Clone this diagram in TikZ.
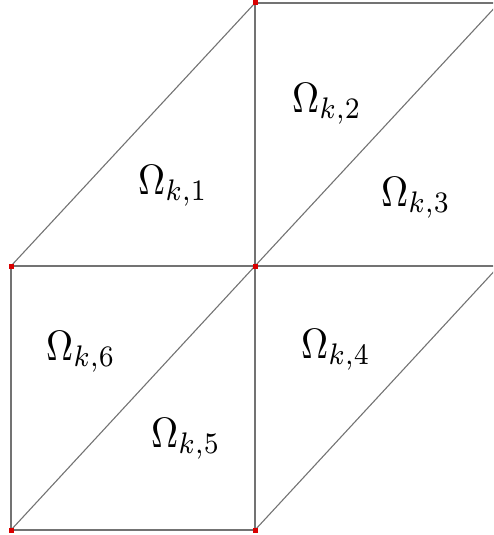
\documentclass[tikz,border=0pt]{standalone}
\usepackage{graphicx}
\newcommand{\biglab}[1]{\scalebox{3.75}[4.25]{$#1$}}
\begin{document}
\begin{tikzpicture}[x=1pt,y=-1pt,
  edge/.style={draw=black!55,line width=1.1pt},
  vdot/.style={fill=red!85!black,minimum size=5pt,inner sep=0pt,outer sep=0pt,shape=rectangle},
  lab/.style={anchor=base west,inner sep=0pt}]
\useasboundingbox (0,0) rectangle (493,535);
\clip (0,0) rectangle (493,535);
\coordinate (A) at (255,3);
\coordinate (TR) at (499,3);
\coordinate (L) at (11,266);
\coordinate (C) at (255,266);
\coordinate (R) at (499,266);
\coordinate (BL) at (11,530);
\coordinate (BM) at (255,530);
\draw[edge] (A) -- (TR);
\draw[edge] (L) -- (A);
\draw[edge] (A) -- (C) -- (BM);
\draw[edge] (C) -- (TR);
\draw[edge] (L) -- (C) -- (R);
\draw[edge] (L) -- (BL) -- (BM);
\draw[edge] (BL) -- (C);
\draw[edge] (BM) -- (R);
\foreach \p in {A,L,C,BL,BM} \node[vdot] (d\p) at (\p) {};
\node[lab] (o1) at (138,194) {\biglab{\Omega_{k,1}}};
\node[lab] (o2) at (292,112) {\biglab{\Omega_{k,2}}};
\node[lab] (o3) at (381,206) {\biglab{\Omega_{k,3}}};
\node[lab] (o4) at (301,358) {\biglab{\Omega_{k,4}}};
\node[lab] (o5) at (151,447) {\biglab{\Omega_{k,5}}};
\node[lab] (o6) at (46,360) {\biglab{\Omega_{k,6}}};
\end{tikzpicture}
\end{document}
